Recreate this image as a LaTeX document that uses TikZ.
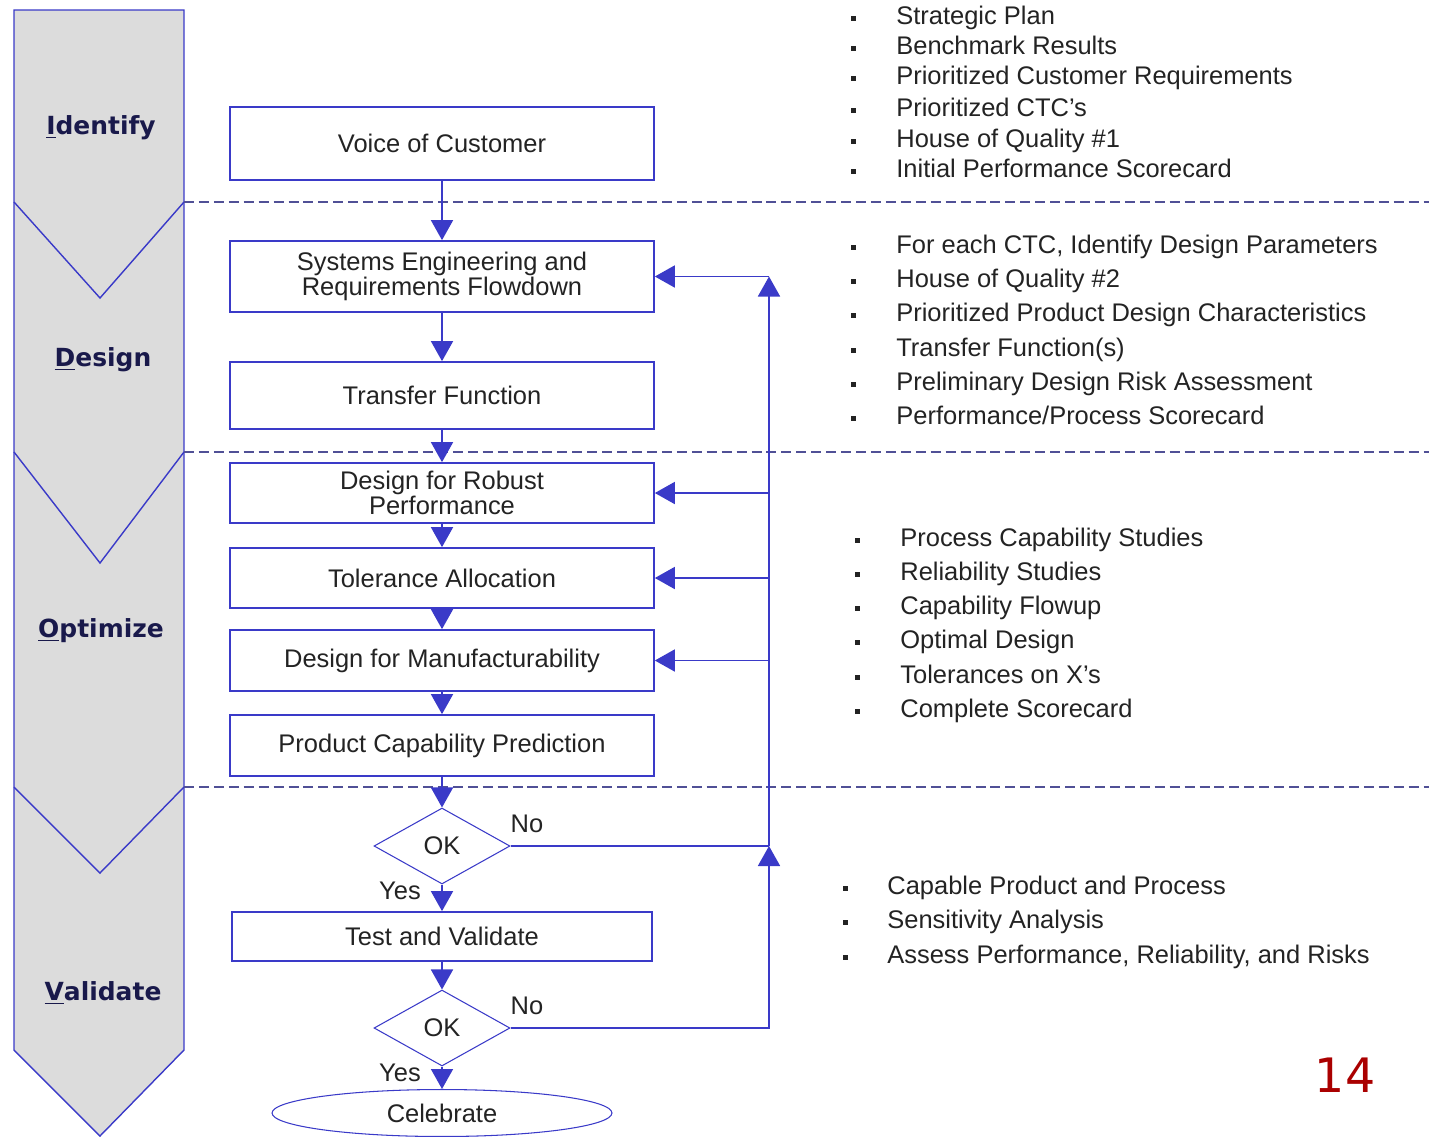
\documentclass[tikz,border=0pt]{standalone}
\usepackage{fontspec}
\setmainfont{Liberation Sans}
\newfontfamily\stagefont{DejaVu Sans}
\usetikzlibrary{arrows.meta,shapes.geometric}

\definecolor{linha}{RGB}{58,58,200}
\definecolor{tracejado}{RGB}{80,80,150}
\definecolor{cinza}{RGB}{220,220,220}
\definecolor{texto}{RGB}{35,35,35}
\definecolor{rotulo}{RGB}{25,25,75}
\definecolor{pagina}{RGB}{170,0,0}

\tikzset{
  caixa/.style={draw=linha, line width=1pt, minimum width=8.48cm, inner sep=0pt,
    text=texto, align=center, font=\fontsize{14.5}{14.5}\selectfont},
  decisao/.style={diamond, draw=linha, line width=0.6pt, minimum width=2.72cm,
    minimum height=1.52cm, inner sep=0pt, text=texto, font=\fontsize{14.5}{14.5}\selectfont},
  fim/.style={ellipse, draw=linha, line width=0.6pt, minimum width=6.8cm,
    minimum height=0.94cm, inner sep=0pt, text=texto, font=\fontsize{14.5}{14.5}\selectfont},
  fluxo/.style={draw=linha, line width=1pt, -{Triangle[width=0.44cm,length=0.4cm]}},
  etapa/.style={text=rotulo, font=\stagefont\bfseries\fontsize{14.2}{14.2}\selectfont},
  item/.style={anchor=west, text=texto, inner sep=0pt, text height=10.5pt, text depth=3pt,
    font=\fontsize{14.5}{14.5}\selectfont},
  rotfluxo/.style={text=texto, inner sep=0pt, text height=10.5pt, text depth=3pt,
    font=\fontsize{14.5}{14.5}\selectfont},
  marcador/.style={fill=texto, minimum size=0.1cm, inner sep=0pt},
  divisao/.style={draw=tracejado, line width=0.8pt, dash pattern=on 5.7pt off 2.8pt}
}

\begin{document}
\begin{tikzpicture}[x=0.02cm, y=-0.02cm]
    \useasboundingbox (0,0) rectangle (1429,1136);

    % Coluna das etapas
    \draw[draw=linha, fill=cinza, line width=0.8pt]
        (14,10) -- (184,10) -- (184,1050) -- (100,1136) -- (14,1050) -- cycle;
    \foreach \y/\v in {202/298, 452/563, 787/873}
        \draw[draw=linha, line width=0.8pt] (14,\y) -- (100,\v) -- (184,\y);

    \node[etapa] (identify) at (101,128) {\underline{I}dentify};
    \node[etapa] (design)   at (103,360) {\underline{D}esign};
    \node[etapa] (optimize) at (101,631) {\underline{O}ptimize};
    \node[etapa] (validate) at (103,993) {\underline{V}alidate};

    % Divisoes
    \foreach \y in {202, 452, 787}
        \draw[divisao] (184,\y) -- (1429,\y);

    % Caixas
    \node[caixa, minimum height=1.46cm] (voc) at (442,143.5) {Voice of Customer};
    \node[caixa, minimum height=1.42cm] (se)  at (442,276.5) {Systems Engineering and\\Requirements Flowdown};
    \node[caixa, minimum height=1.34cm] (tf)  at (442,395.5) {Transfer Function};
    \node[caixa, minimum height=1.2cm]  (rob) at (442,493)   {Design for Robust\\Performance};
    \node[caixa, minimum height=1.2cm]  (tol) at (442,578)   {Tolerance Allocation};
    \node[caixa, minimum height=1.22cm] (dfm) at (442,660.5) {Design for Manufacturability};
    \node[caixa, minimum height=1.22cm] (pcp) at (442,745.5) {Product Capability Prediction};
    \node[decisao] (ok1) at (442,846) {OK};
    \node[caixa, minimum width=8.4cm, minimum height=0.98cm] (test) at (442,936.5) {Test and Validate};
    \node[decisao] (ok2) at (442,1028) {OK};
    \node[fim] (cel) at (442,1113) {Celebrate};

    % Setas
    \draw[fluxo] (voc) -- (se);
    \draw[fluxo] (se) -- (tf);
    \draw[fluxo] (tf) -- (rob);
    \draw[fluxo] (rob) -- (tol);
    \draw[fluxo] (tol) -- (dfm);
    \draw[fluxo] (dfm) -- (pcp);
    \draw[fluxo] (pcp) -- (ok1);
    \draw[fluxo] (ok1) -- (test);
    \draw[fluxo] (test) -- (ok2);
    \draw[fluxo] (ok2) -- (cel);

    \node[rotfluxo] (sim1) at (400,893)  {Yes};
    \node[rotfluxo] (nao1) at (527,826)  {No};
    \node[rotfluxo] (sim2) at (400,1075) {Yes};
    \node[rotfluxo] (nao2) at (527,1008) {No};

    % Retorno
    \coordinate (j1) at (769,276.5);
    \coordinate (j2) at (769,846);
    \draw[draw=linha, line width=1pt] (ok1.east) -- (j2);
    \draw[fluxo] (ok2.east) -| (j2);
    \draw[fluxo] (j2) -- (j1);
    \draw[fluxo] (j1) -- (se.east);
    \foreach \n in {rob, tol, dfm}
        \draw[fluxo] (j1 |- \n.east) -- (\n.east);

    % Listas
    \foreach \y/\t [count=\i] in {18/Strategic Plan, 48/Benchmark Results,
        78/Prioritized Customer Requirements, 110/Prioritized CTC's,
        141/House of Quality \#1, 171/Initial Performance Scorecard} {
        \node[marcador] (ma-\i) at (853,\y) {};
        \node[item] (la-\i) at (896,\y) {\t};
    }
    \foreach \y/\t [count=\i] in {247/{For each CTC, Identify Design Parameters},
        281/House of Quality \#2, 315/Prioritized Product Design Characteristics,
        350/Transfer Function(s), 384/Preliminary Design Risk Assessment,
        418/{Performance/Process Scorecard}} {
        \node[marcador] (mb-\i) at (853,\y) {};
        \node[item] (lb-\i) at (896,\y) {\t};
    }
    \foreach \y/\t [count=\i] in {540/Process Capability Studies, 574/Reliability Studies,
        608/Capability Flowup, 642/Optimal Design, 677/Tolerances on X's,
        711/Complete Scorecard} {
        \node[marcador] (mc-\i) at (857,\y) {};
        \node[item] (lc-\i) at (900,\y) {\t};
    }
    \foreach \y/\t [count=\i] in {888/Capable Product and Process, 922/Sensitivity Analysis,
        957/{Assess Performance, Reliability, and Risks}} {
        \node[marcador] (md-\i) at (845,\y) {};
        \node[item] (ld-\i) at (887,\y) {\t};
    }

    % Pagina
    \node[text=pagina, font=\stagefont\fontsize{27}{27}\selectfont] (pag) at (1345,1075) {14};
\end{tikzpicture}
\end{document}
